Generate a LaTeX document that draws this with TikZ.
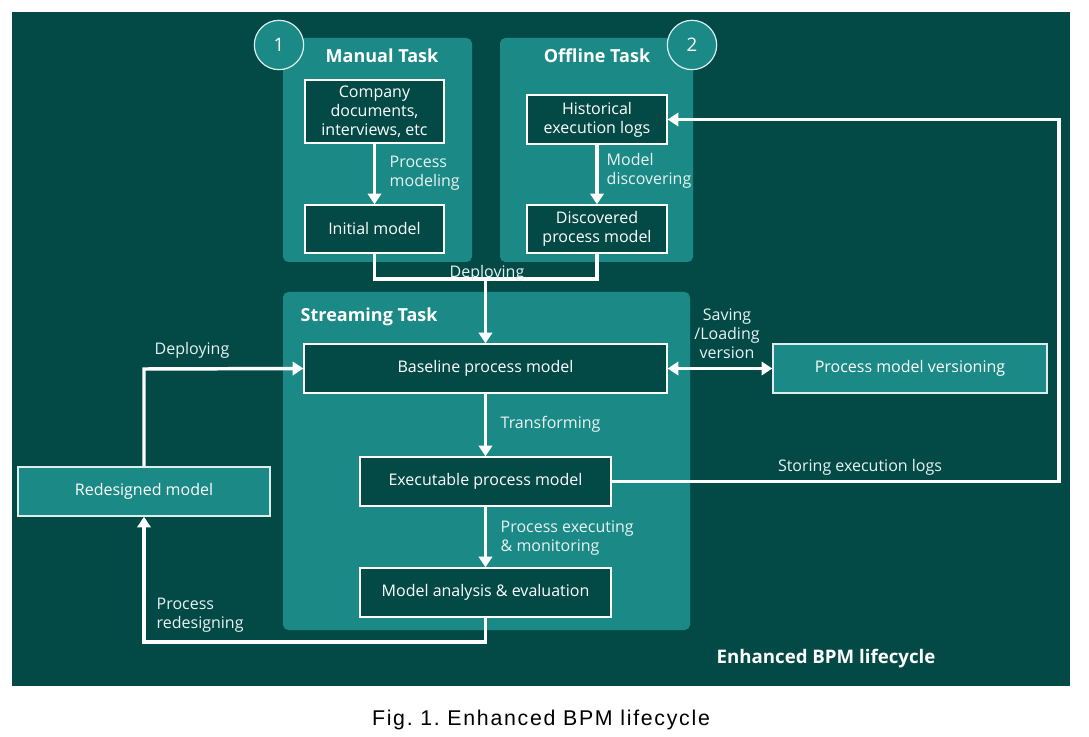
\documentclass[tikz,border=0pt]{standalone}
\usepackage{fontspec}
\setmainfont{Open Sans}
\newfontfamily\capfont[LetterSpace=8]{Liberation Sans}
\usetikzlibrary{arrows.meta}
\definecolor{bgdark}{HTML}{034A47}
\definecolor{panel}{HTML}{1B8A86}
\definecolor{boxdark}{HTML}{034A47}
\tikzset{
  panelbox/.style={fill=panel, rounded corners=4pt},
  darkbox/.style={draw=white, line width=1.1pt, fill=boxdark, text=white, align=center, font=\fontsize{12}{14.2}\selectfont},
  tealbox/.style={draw=white!85!panel, line width=1.1pt, fill=panel, text=white, align=center, font=\fontsize{12}{14.2}\selectfont},
  wline/.style={draw=white, line width=2.6pt},
  tipw/.tip={Triangle[width=10pt,length=8pt]},
  warrow/.style={wline, -tipw},
  lbl/.style={text=white!90!panel, font=\fontsize{12}{14.2}\selectfont, align=left},
  ttl/.style={text=white, font=\bfseries\fontsize{13.5}{16}\selectfont},
  numcirc/.style={circle, draw=white!85!panel, line width=0.9pt, fill=panel, minimum size=37pt, inner sep=0pt, text=white, font=\fontsize{14}{16}\selectfont}
}
\begin{document}
\begin{tikzpicture}[x=0.75pt, y=-0.75pt]
\useasboundingbox (0,0) rectangle (1089,737);
\fill[white] (0,0) rectangle (1089,737);
\fill[bgdark] (12,12) rectangle (1070,686);
% panels
\fill[panelbox] (283,38) rectangle (472,262);
\fill[panelbox] (500,38) rectangle (693,262);
\fill[panelbox] (283,292) rectangle (690,630);
\node[numcirc] (c1) at (279,45) {1};
\node[numcirc] (c2) at (692,45) {2};
\node[ttl] (tmanual) at (382,56) {Manual Task};
\node[ttl] (toffline) at (597,56) {Offline Task};
\node[ttl, anchor=west] (tstream) at (296,317) {Streaming Task};
% boxes
\node[darkbox, minimum width=139*0.75pt, minimum height=63*0.75pt, inner sep=1pt] (company) at (374.5,111.5) {Company\\documents,\\interviews, etc};
\node[darkbox, minimum width=139*0.75pt, minimum height=48*0.75pt] (initial) at (374.5,229) {Initial model};
\node[darkbox, minimum width=140*0.75pt, minimum height=49*0.75pt, inner sep=1pt] (hist) at (597,119.5) {Historical\\execution logs};
\node[darkbox, minimum width=140*0.75pt, minimum height=48*0.75pt, inner sep=1pt] (disc) at (597,229) {Discovered\\process model};
\node[darkbox, minimum width=363*0.75pt, minimum height=49*0.75pt] (base) at (485.5,368.5) {Baseline process model};
\node[darkbox, minimum width=251*0.75pt, minimum height=49*0.75pt] (exec) at (485.5,481.5) {Executable process model};
\node[darkbox, minimum width=251*0.75pt, minimum height=49*0.75pt] (anal) at (485.5,592.5) {Model analysis \& evaluation};
\node[tealbox, minimum width=252*0.75pt, minimum height=49*0.75pt] (redes) at (144,491.5) {Redesigned model};
\node[tealbox, minimum width=274*0.75pt, minimum height=49*0.75pt] (vers) at (910,368.5) {Process model versioning};
% connectors
\draw[warrow] (company) -- (initial);
\draw[warrow] (hist) -- (disc);
\coordinate (dl) at (374.5,279);
\coordinate (dr) at (597,279);
\coordinate (dm) at (485.5,279);
\draw[wline] (initial.south) -- (dl) -- (dr) -- (disc.south);
\draw[warrow] (dm) -- (base.north);
\draw[warrow] (base) -- (exec);
\draw[warrow] (exec) -- (anal);
\coordinate (pb) at (485.5,642);
\coordinate (pl) at (144,642);
\draw[warrow] (anal.south) -- (pb) -- (pl) -- (redes.south);
\coordinate (dt) at (144,369);
\draw[warrow] (redes.north) -- (dt) -- (base.west);
\draw[wline, tipw-tipw] (base.east) -- (vers.west);
\coordinate (sr) at (1059,481.5);
\coordinate (st) at (1059,119.5);
\draw[warrow] (exec.east) -- (sr) -- (st) -- (hist.east);
% labels
\node[lbl, anchor=west] (lpm) at (385,173) {Process\\modeling};
\node[lbl, anchor=west] (lmd) at (602,171) {Model\\discovering};
\node[lbl] (ldep1) at (487,273) {Deploying};
\node[lbl, anchor=west] (ltr) at (496,424) {Transforming};
\node[lbl, anchor=west] (lpe) at (496,538) {Process executing\\\& monitoring};
\node[lbl, anchor=west] (lpr) at (152,615) {Process\\redesigning};
\node[lbl] (ldep2) at (192,350) {Deploying};
\node[lbl, align=center] (lsave) at (727,334) {Saving\\/Loading\\version};
\node[lbl] (lstore) at (860,467) {Storing execution logs};
\node[text=white, font=\bfseries\fontsize{14}{16}\selectfont] (tbpm) at (826,659) {Enhanced BPM lifecycle};
\node[text=black, font=\capfont\fontsize{16}{18}\selectfont] (cap) at (541,720) {Fig.\ 1.\ Enhanced BPM lifecycle};
\end{tikzpicture}
\end{document}
